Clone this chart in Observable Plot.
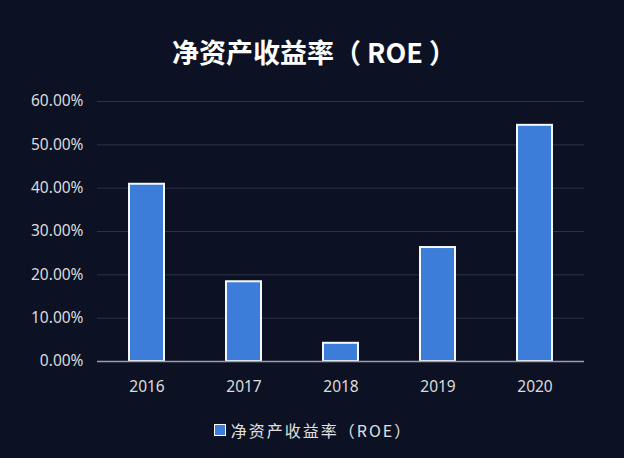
<!DOCTYPE html>
<html>
<head>
<meta charset="utf-8">
<script src="https://cdn.jsdelivr.net/npm/d3@7"></script>
<script src="https://cdn.jsdelivr.net/npm/@observablehq/plot@0.6"></script>
<style>
  html, body { margin: 0; padding: 0; background: #0c1224; width: 624px; height: 458px; overflow: hidden; }
  #title { height: 84px; box-sizing: border-box; padding-top: 35px; text-align: center; color: #ffffff;
    font-family: "Noto Sans CJK SC", "Noto Sans", sans-serif; font-weight: bold; font-size: 27px; line-height: 34px; padding-left: 4px; white-space: nowrap; }
  #legend { height: 54px; display: flex; align-items: center; justify-content: center; padding-left: 2px; padding-bottom: 2px; box-sizing: border-box;
    font-family: "Noto Sans CJK SC", "Noto Sans", sans-serif; font-size: 16px; letter-spacing: 2px; color: #e0e0e0; }
  #legend .sw { width: 10px; height: 10px; background: #3b7dd8; border: 1.5px solid #ffffff; margin-right: 5px; }
</style>
</head>
<body>
<div id="title">净资产收益率（ ROE ）</div>
<div id="chart"></div>
<div id="legend"><span class="sw"></span><span>净资产收益率（ROE）</span></div>
<script>
const years = ["2016", "2017", "2018", "2019", "2020"];
const roe = [0.409, 0.184, 0.042, 0.263, 0.545];
const yTicks = [0, 0.1, 0.2, 0.3, 0.4, 0.5, 0.6];
const seriesName = "净资产收益率（ROE）";

const data = years.map((y, i) => ({year: y, value: roe[i]}));

const chart = Plot.plot({
  width: 624,
  height: 320,
  marginLeft: 97,
  marginRight: 40,
  marginTop: 17,
  marginBottom: 43,
  style: {background: "transparent", color: "#dcdcdc", fontFamily: "'Noto Sans', sans-serif", fontSize: "15.5px"},
  x: {domain: years, paddingInner: 0.64, paddingOuter: 0.32, label: null, tickSize: 0, tickPadding: 19},
  y: {domain: [0, 0.6], ticks: yTicks, tickFormat: d3.format(".2%"), label: null, tickSize: 0, tickPadding: 14},
  marks: [
    Plot.ruleY(yTicks.filter(d => d > 0), {stroke: "#2c3345", strokeWidth: 1}),
    Plot.barY(data, {x: "year", y: "value", fill: "#3b7dd8", stroke: "#f4f8ff", strokeWidth: 2}),
    Plot.ruleY([0], {stroke: "#9aa0ab", strokeWidth: 1.5})
  ]
});
document.getElementById("chart").appendChild(chart);
</script>
</body>
</html>
